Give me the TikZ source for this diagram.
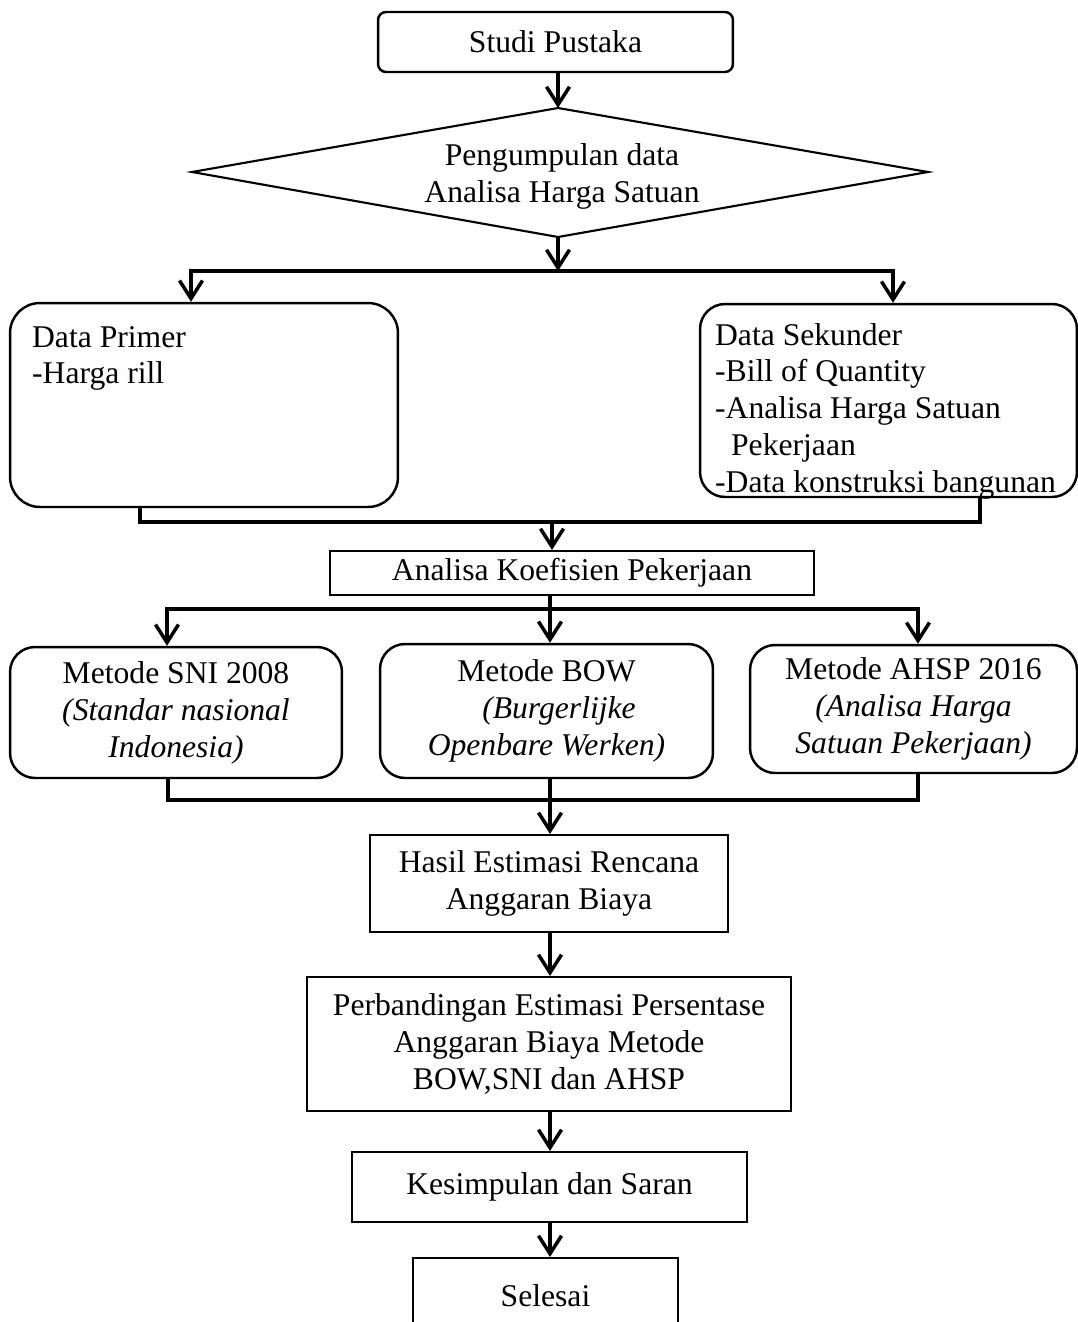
\documentclass[tikz,border=0pt]{standalone}
\usepackage{fontspec}
\setmainfont{Liberation Serif}
\usetikzlibrary{arrows.meta,positioning}
\newcommand{\flowfont}{\fontsize{18}{21}\selectfont}
\tikzset{
  base/.style={draw, inner sep=0pt, align=center, font=\flowfont},
  rbox/.style={base, line width=1.4pt, rounded corners=#1},
  rbox/.default=0.5cm,
  sbox/.style={base, line width=1.2pt},
  txt/.style={inner sep=0pt, align=left, font=\flowfont},
  link/.style={line width=2pt},
  arr/.style={link, -{Straight Barb[length=3.6mm,width=4.6mm]}},
  tips/.style={link, {Straight Barb[length=3.6mm,width=4.6mm]}-{Straight Barb[length=3.6mm,width=4.6mm]}},
}
\begin{document}
\begin{tikzpicture}[x=0.02cm, y=-0.02cm]
\useasboundingbox (0,0) rectangle (1078,1322);
% boxes
\node[rbox=0.16cm, minimum width=7.1cm, minimum height=1.2cm] (studi) at (555.5,42) {Studi Pustaka};
\coordinate (dtop) at (558,108);
\coordinate (dright) at (928,172);
\coordinate (dbot) at (558,237);
\coordinate (dleft) at (192,172);
\draw[line width=1.2pt] (dtop) -- (dright) -- (dbot) -- (dleft) -- cycle;
\node[txt, align=center] (kumpul) at (562,176) {Pengumpulan data\\Analisa Harga Satuan};
\node[rbox=0.6cm, minimum width=7.76cm, minimum height=4.08cm] (primer) at (204,405) {};
\node[txt, anchor=north west] (primertxt) at ([xshift=0.46cm, yshift=-0.48cm]primer.north west) {Data Primer\\-Harga rill};
\node[rbox=0.5cm, minimum width=7.54cm, minimum height=3.86cm] (sekunder) at (888.5,400.5) {};
\node[txt, anchor=north west] (sekundertxt) at ([xshift=0.32cm, yshift=-0.4cm]sekunder.north west) {Data Sekunder\\-Bill of Quantity\\-Analisa Harga Satuan\\\hspace*{0.32cm}Pekerjaan\\-Data konstruksi bangunan};
\node[sbox, minimum width=9.68cm, minimum height=0.88cm] (analisa) at (572,573) {Analisa Koefisien Pekerjaan};
\node[rbox, minimum width=6.64cm, minimum height=2.62cm] (sni) at (176,712.5) {Metode SNI 2008\\\itshape(Standar nasional\\\itshape Indonesia)};
\node[rbox, minimum width=6.66cm, minimum height=2.68cm] (bow) at (546.5,711) {Metode BOW\\\itshape\hspace*{0.5cm}(Burgerlijke\\\itshape Openbare Werken)};
\node[rbox, minimum width=6.54cm, minimum height=2.56cm] (ahsp) at (913.5,709) {Metode AHSP 2016\\\itshape(Analisa Harga\\\itshape Satuan Pekerjaan)};
\node[sbox, minimum width=7.16cm, minimum height=1.94cm] (hasil) at (549,883.5) {Hasil Estimasi Rencana\\Anggaran Biaya};
\node[sbox, minimum width=9.68cm, minimum height=2.68cm] (banding) at (549,1044) {Perbandingan Estimasi Persentase\\Anggaran Biaya Metode\\BOW,SNI dan AHSP};
\node[sbox, minimum width=7.9cm, minimum height=1.4cm] (simpul) at (549.5,1187) {Kesimpulan dan Saran};
\node[sbox, minimum width=5.3cm, minimum height=1.52cm] (selesai) at (545.5,1296) {Selesai};
% connectors
\draw[arr] (studi.south -| dtop) -- (dtop);
\coordinate (bL) at (191,271);
\coordinate (bM) at (558,271);
\coordinate (bR) at (893,271);
\draw[arr] (dbot) -- (bM);
\draw[tips] (bL |- primer.north) -- (bL) -- (bR) -- (bR |- sekunder.north);
\coordinate (mL) at (140,522);
\coordinate (mM) at (552,522);
\coordinate (mR) at (980,522);
\draw[link] (primer.south -| mL) -- (mL) -- (mR) -- (sekunder.south -| mR);
\draw[arr] (mM) -- (mM |- analisa.north);
\coordinate (sL) at (167,609);
\coordinate (sM) at (550,609);
\coordinate (sR) at (918,609);
\draw[link] (analisa.south -| sM) -- (sM);
\draw[tips] (sL |- sni.north) -- (sL) -- (sR) -- (sR |- ahsp.north);
\draw[arr] (sM) -- (sM |- bow.north);
\coordinate (jL) at (168,800);
\coordinate (jM) at (550,800);
\coordinate (jR) at (918,800);
\draw[link] (sni.south -| jL) -- (jL) -- (jR) -- (ahsp.south -| jR);
\draw[link] (bow.south -| jM) -- (jM);
\draw[arr] (jM) -- (jM |- hasil.north);
\draw[arr] (hasil.south -| jM) -- (banding.north -| jM);
\draw[arr] (banding.south -| jM) -- (simpul.north -| jM);
\draw[arr] (simpul.south -| jM) -- (selesai.north -| jM);
\end{tikzpicture}
\end{document}
